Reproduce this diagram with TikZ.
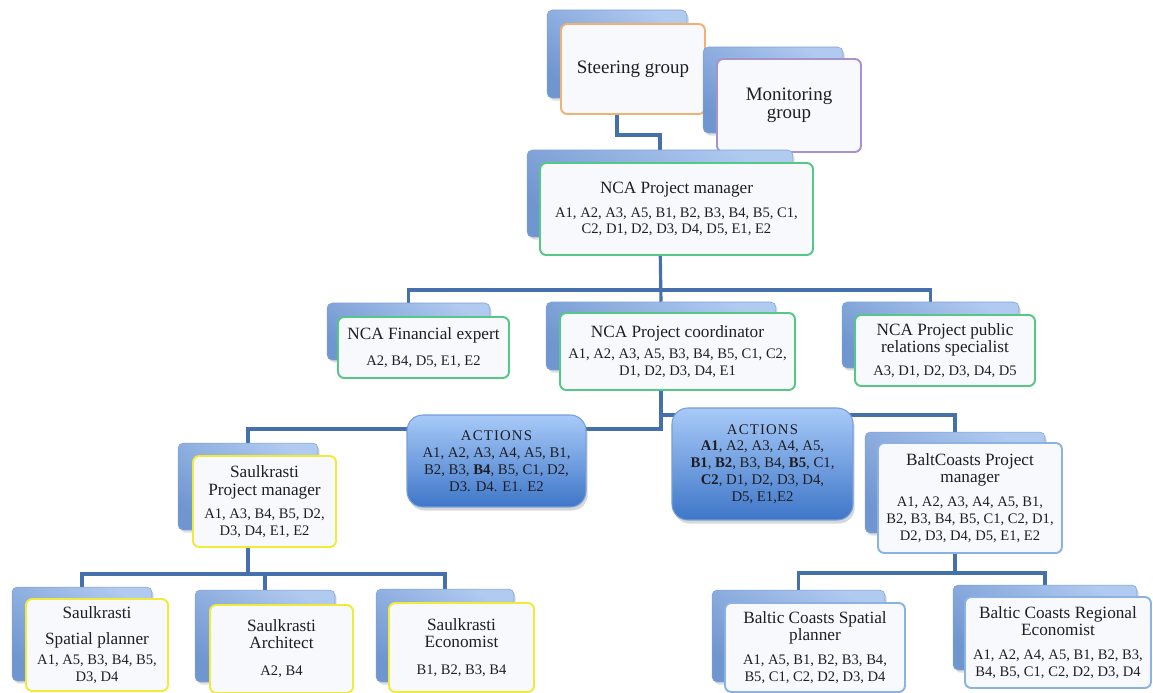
\documentclass[tikz,border=0pt]{standalone}
\usepackage{fontspec}
\setmainfont{Liberation Serif}
\usetikzlibrary{backgrounds,shadows}
\definecolor{linkblue}{RGB}{70,112,172}
\definecolor{backlight}{RGB}{176,202,240}
\definecolor{backdark}{RGB}{112,150,208}
\definecolor{cardfill}{RGB}{248,249,253}
\definecolor{steerline}{RGB}{244,176,112}
\definecolor{monline}{RGB}{168,146,206}
\definecolor{ncaline}{RGB}{84,200,132}
\definecolor{saulline}{RGB}{240,234,56}
\definecolor{baltline}{RGB}{140,178,228}
\definecolor{acttop}{RGB}{168,202,248}
\definecolor{actbot}{RGB}{62,118,200}
\definecolor{actline}{RGB}{118,158,218}
\definecolor{inktext}{RGB}{30,30,36}
\newcommand\ttl{\fontsize{9.8}{11}\selectfont}
\newcommand\actword{{\addfontfeature{LetterSpace=8}ACTIONS}}
\begin{document}
\begin{tikzpicture}[x=0.02cm, y=-0.02cm, font=\fontsize{8.3}{9.6}\selectfont, text=inktext]
	\tikzset{backbox/.style={rounded corners=3pt, top color=backlight, bottom color=backdark, shading angle=-35, draw=backdark!90, line width=0.3pt, drop shadow={opacity=0.25, shadow xshift=1pt, shadow yshift=-1.5pt}},
		card/.style={rounded corners=3.5pt, fill=cardfill, draw=#1, line width=1.1pt, align=center, inner sep=2pt},
		actions/.style={rounded corners=9pt, top color=acttop, bottom color=actbot, draw=actline, line width=0.6pt, align=center, inner sep=2pt, font=\fontsize{8.4}{9.6}\selectfont, drop shadow={opacity=0.3, shadow xshift=1pt, shadow yshift=-2pt}},
		conn/.style={draw=linkblue, line width=1.8pt}}
	\useasboundingbox (0,0) rectangle (1153,693);
	% top row
	\node[backbox, minimum width=2.80cm, minimum height=1.76cm] (sgB) at (617,54) {};
	\node[card=steerline, minimum width=2.88cm, minimum height=1.80cm, font=\fontsize{10.8}{12}\selectfont] (sg) at (633,69) {Steering group};
	\node[backbox, minimum width=2.80cm, minimum height=1.72cm] (mgB) at (773,90) {};
	\node[card=monline, minimum width=2.88cm, minimum height=1.86cm, font=\fontsize{10.8}{10.5}\selectfont] (mg) at (789,105.5) {Monitoring\\group};
	\node[backbox, minimum width=5.32cm, minimum height=1.74cm] (pmB) at (660,193.5) {};
	\node[card=ncaline, minimum width=5.46cm, minimum height=1.84cm] (pm) at (676.5,209) {\ttl NCA Project manager\\[4pt]A1, A2, A3, A5, B1, B2, B3, B4, B5, C1,\\C2, D1, D2, D3, D4, D5, E1, E2};
	% NCA row
	\node[backbox, minimum width=3.26cm, minimum height=1.14cm] (finB) at (408.5,331.5) {};
	\node[card=ncaline, minimum width=3.42cm, minimum height=1.22cm] (fin) at (423.5,347.5) {\ttl NCA Financial expert\\[5.5pt]A2, B4, D5, E1, E2};
	\node[backbox, minimum width=4.60cm, minimum height=1.36cm] (coB) at (661,336) {};
	\node[card=ncaline, minimum width=4.70cm, minimum height=1.54cm] (co) at (677.5,351.5) {\ttl NCA Project coordinator\\[2.5pt]A1, A2, A3, A5, B3, B4, B5, C1, C2,\\D1, D2, D3, D4, E1};
	\node[backbox, minimum width=3.54cm, minimum height=1.32cm] (prB) at (930.5,335) {};
	\node[card=ncaline, minimum width=3.60cm, minimum height=1.42cm] (pr) at (945,350.5) {\ttl NCA Project public\\\ttl relations specialist\\[3.5pt]A3, D1, D2, D3, D4, D5};
	% partners
	\node[backbox, minimum width=2.80cm, minimum height=1.74cm] (spmB) at (248,486.5) {};
	\node[card=saulline, minimum width=2.86cm, minimum height=1.82cm] (spm) at (264.5,501.5) {\ttl Saulkrasti\\[1pt]\ttl Project manager\\[3.5pt]A1, A3, B4, B5, D2,\\D3, D4, E1, E2};
	\node[backbox, minimum width=3.60cm, minimum height=2.02cm] (bcB) at (955,482.5) {};
	\node[card=baltline, minimum width=3.68cm, minimum height=2.20cm] (bc) at (970,498) {\ttl BaltCoasts Project\\\ttl manager\\[4pt]A1, A2, A3, A4, A5, B1,\\B2, B3, B4, B5, C1, C2, D1,\\D2, D3, D4, D5, E1, E2};
	\node[actions, minimum width=3.58cm, minimum height=1.84cm] (actL) at (496.5,461) {\actword\\A1, A2, A3, A4, A5, B1,\\B2, B3, \textbf{B4}, B5, C1, D2,\\D3. D4. E1. E2};
	\node[actions, minimum width=3.62cm, minimum height=2.24cm] (actR) at (762.5,464) {\actword\\\textbf{A1}, A2, A3, A4, A5,\\\textbf{B1}, \textbf{B2}, B3, B4, \textbf{B5}, C1,\\\textbf{C2}, D1, D2, D3, D4,\\D5, E1,E2};
	% bottom row
	\node[backbox, minimum width=2.80cm, minimum height=1.88cm] (sspB) at (82,634) {};
	\node[card=saulline, minimum width=2.84cm, minimum height=1.84cm] (ssp) at (97,645) {\ttl Saulkrasti\\[5pt]\ttl Spatial planner\\[2pt]A1, A5, B3, B4, B5,\\D3, D4};
	\node[backbox, minimum width=2.80cm, minimum height=1.84cm] (arB) at (265,636) {};
	\node[card=saulline, minimum width=2.86cm, minimum height=1.76cm] (ar) at (281.5,649) {\ttl Saulkrasti\\\ttl Architect\\[6pt]A2, B4};
	\node[backbox, minimum width=2.76cm, minimum height=1.86cm] (ecB) at (445,635.5) {};
	\node[card=saulline, minimum width=2.90cm, minimum height=1.78cm] (ec) at (461.5,647.5) {\ttl Saulkrasti\\\ttl Economist\\[6pt]B1, B2, B3, B4};
	\node[backbox, minimum width=3.46cm, minimum height=1.84cm] (bspB) at (798.5,636) {};
	\node[card=baltline, minimum width=3.60cm, minimum height=1.78cm] (bsp) at (815,647.5) {\ttl Baltic Coasts Spatial\\\ttl planner\\[4pt]A1, A5, B1, B2, B3, B4,\\B5, C1, C2, D2, D3, D4};
	\node[backbox, minimum width=3.68cm, minimum height=1.70cm] (reB) at (1045,627.5) {};
	\node[card=baltline, minimum width=3.72cm, minimum height=1.82cm] (re) at (1058,642.5) {\ttl Baltic Coasts Regional\\\ttl Economist\\[4pt]A1, A2, A4, A5, B1, B2, B3,\\B4, B5, C1, C2, D2, D3, D4};
	\coordinate (jSg) at (640,135);
	\coordinate (jTop) at (660,290);
	\coordinate (jLeft) at (500,429);
	\coordinate (jRight) at (800,415);
	\coordinate (jSaul) at (248,574);
	\coordinate (jBalt) at (955,573);
	\begin{pgfonlayer}{background}
		\fill[white] (0,0) rectangle (1153,693);
		\draw[conn] (sgB.south) |- (jSg) -| (pmB.north);
		\draw[conn] (pmB.south) -- (coB.north);
		\draw[conn] (finB.north) |- (jTop) -| (prB.north);
		\draw[conn] (coB.south) |- (jLeft) -| (spmB.north);
		\draw[conn] (coB.south) |- (jRight) -| (bcB.north);
		\draw[conn] (spmB.south) -- (jSaul);
		\draw[conn] (sspB.north) |- (jSaul) -| (ecB.north);
		\draw[conn] (arB.north) -- (arB.north |- jSaul);
		\draw[conn] (bcB.south) -- (jBalt);
		\draw[conn] (bspB.north) |- (jBalt) -| (reB.north);
	\end{pgfonlayer}
\end{tikzpicture}
\end{document}
